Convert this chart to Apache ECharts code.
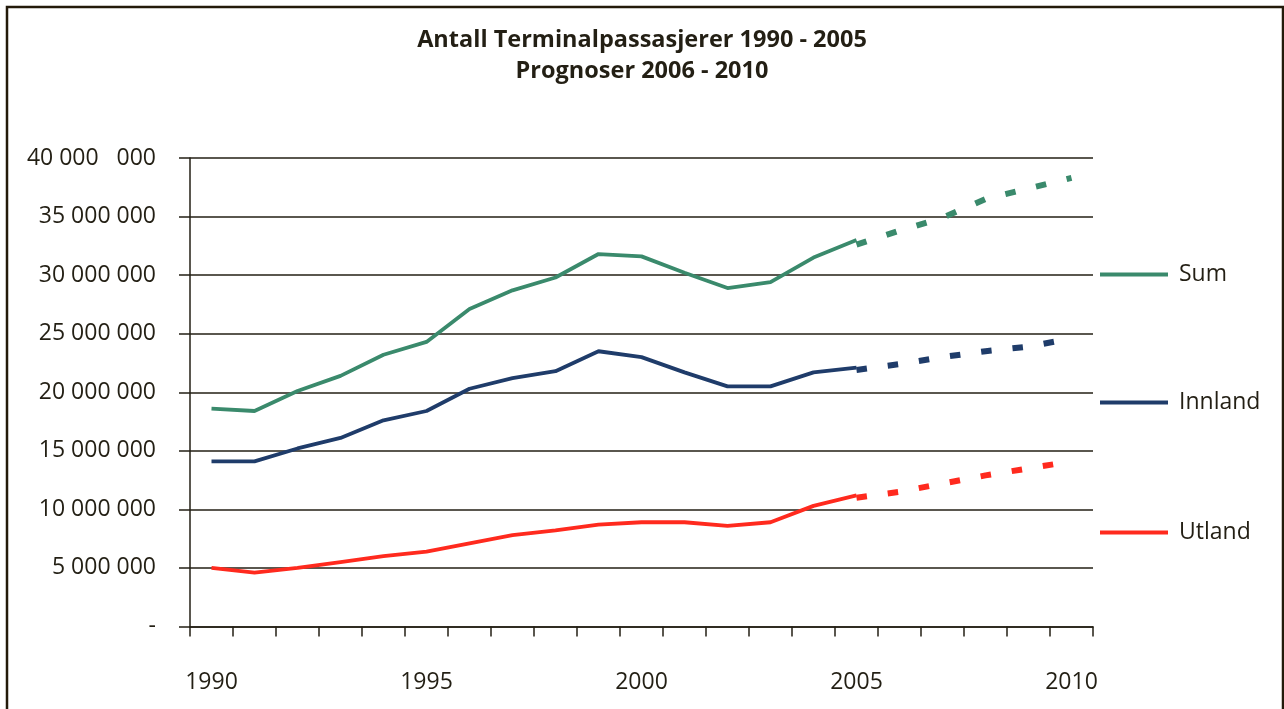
<!DOCTYPE html>
<html>
<head>
<meta charset="utf-8">
<script src="https://cdn.jsdelivr.net/npm/echarts@6/dist/echarts.min.js"></script>
<style>
  html, body { margin: 0; padding: 0; background: #fff; }
  #chart { width: 1284px; height: 709px; }
</style>
</head>
<body>
<div id="chart"></div>
<script>
const years = ['1990', '1991', '1992', '1993', '1994', '1995', '1996', '1997', '1998', '1999', '2000',
  '2001', '2002', '2003', '2004', '2005', '2006', '2007', '2008', '2009', '2010']

// faktiske tall 1990 - 2005 (millioner)
const sum = [18.6, 18.4, 20.1, 21.4, 23.2, 24.3, 27.1, 28.7, 29.8, 31.8, 31.6, 30.2, 28.9, 29.4, 31.5, 33.0]
const innland = [14.1, 14.1, 15.2, 16.1, 17.6, 18.4, 20.3, 21.2, 21.8, 23.5, 23.0, 21.7, 20.5, 20.5, 21.7, 22.1]
const utland = [5.0, 4.6, 5.0, 5.5, 6.0, 6.4, 7.1, 7.8, 8.2, 8.7, 8.9, 8.9, 8.6, 8.9, 10.3, 11.2]

// prognoser 2005 - 2010
const sumPrognose = [32.6, 33.8, 34.9, 36.5, 37.4, 38.3]
const innlandPrognose = [21.9, 22.4, 23.0, 23.5, 23.9, 24.6]
const utlandPrognose = [11.0, 11.5, 12.2, 12.9, 13.5, 14.1]

const yTicks = ['-', '5 000 000', '10 000 000', '15 000 000', '20 000 000', '25 000 000', '30 000 000', '35 000 000', '40 000   000']

const colors = { Sum: '#3a8a6c', Innland: '#1f3c6a', Utland: '#ff2a1e' }
const textColor = '#231f14'
const font = 'Open Sans'

function actual(arr) {
  return years.map((_, i) => (i < arr.length ? arr[i] * 1e6 : null))
}
function forecast(arr) {
  return years.map((_, i) => (i >= 15 ? arr[i - 15] * 1e6 : null))
}

function solid(name, arr) {
  return {
    name,
    type: 'line',
    data: actual(arr),
    symbol: 'none',
    lineStyle: { color: colors[name], width: 3.8 },
    itemStyle: { color: colors[name] },
    z: 5,
  }
}
function dashed(name, arr) {
  return {
    name: name + ' prognose',
    type: 'line',
    data: forecast(arr),
    symbol: 'none',
    lineStyle: { color: colors[name], width: 6, type: [10.5, 21], cap: 'butt' },
    itemStyle: { color: colors[name] },
    z: 5,
  }
}

function legendFor(name, top) {
  return {
    data: [name],
    left: 1095,
    top,
    icon: 'rect',
    itemWidth: 68,
    itemHeight: 4,
    selectedMode: false,
    textStyle: { fontFamily: font, fontSize: 23, color: textColor, padding: [0, 0, 0, 6] },
  }
}

const chart = echarts.init(document.getElementById('chart'))

const option = {
  backgroundColor: '#fff',
  animation: false,
  title: {
    text: 'Antall Terminalpassasjerer 1990 - 2005\nPrognoser 2006 - 2010',
    left: 'center',
    top: 20,
    textStyle: {
      fontFamily: font,
      fontWeight: 'bold',
      fontSize: 23.5,
      lineHeight: 31,
      color: textColor,
    },
  },
  legend: [legendFor('Sum', 258), legendFor('Innland', 386), legendFor('Utland', 516)],
  grid: { left: 190, right: 191, top: 158, bottom: 82.5 },
  xAxis: {
    type: 'category',
    data: years,
    boundaryGap: true,
    axisLine: { show: true, lineStyle: { color: textColor, width: 1.5 } },
    axisTick: { show: true, interval: 0, length: 10, lineStyle: { color: textColor, width: 1.5 } },
    axisLabel: {
      interval: 4,
      margin: 44,
      fontFamily: font,
      fontSize: 23,
      color: textColor,
    },
  },
  yAxis: {
    type: 'value',
    min: 0,
    max: 40000000,
    interval: 5000000,
    axisLine: { show: true, lineStyle: { color: textColor, width: 1.5 } },
    axisTick: { show: true, inside: false, length: 11, lineStyle: { color: textColor, width: 1.5 } },
    splitLine: { show: true, lineStyle: { color: textColor, width: 1.5 } },
    axisLabel: {
      margin: 34,
      fontFamily: font,
      fontSize: 23,
      color: textColor,
      formatter: (v) => yTicks[Math.round(v / 5000000)],
    },
  },
  graphic: [
    {
      type: 'rect',
      shape: { x: 7, y: 7, width: 1276, height: 720 },
      style: { fill: 'none', stroke: '#231a0a', lineWidth: 2.5 },
      silent: true,
    },
  ],
  series: [
    solid('Sum', sum),
    solid('Innland', innland),
    solid('Utland', utland),
    dashed('Sum', sumPrognose),
    dashed('Innland', innlandPrognose),
    dashed('Utland', utlandPrognose),
  ],
}

chart.setOption(option)
</script>
</body>
</html>
